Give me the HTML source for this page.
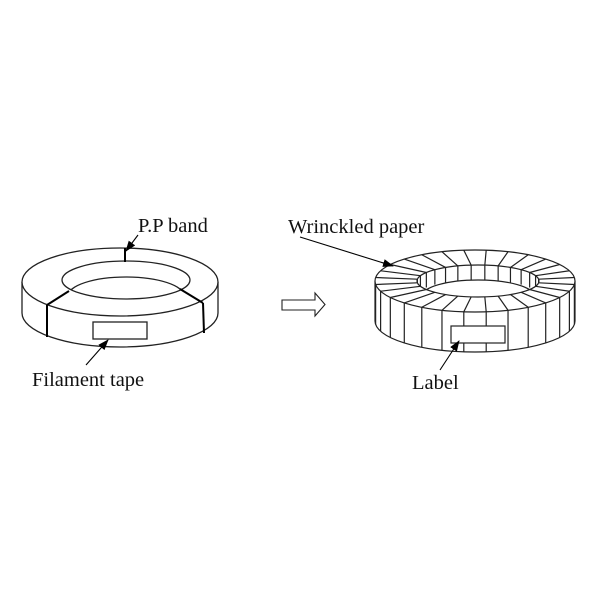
<!DOCTYPE html>
<html><head><meta charset="utf-8"><style>
html,body{margin:0;padding:0;background:#fff}
svg{display:block}
text{font-family:"Liberation Serif",serif;font-size:20.5px;fill:#111}
</style></head><body>
<svg id="s" width="600" height="600" viewBox="0 0 600 600" xmlns="http://www.w3.org/2000/svg">
<defs>
<clipPath id="c1"><ellipse cx="126" cy="280" rx="64" ry="19"/></clipPath>
<clipPath id="c2"><ellipse cx="478" cy="281" rx="61" ry="16"/></clipPath>
<marker id="ah" markerWidth="11" markerHeight="8" refX="10" refY="4" orient="auto" markerUnits="userSpaceOnUse"><path d="M0,0 L11,4 L0,8 z" fill="#000"/></marker>
</defs>
<g fill="none" stroke="#222" stroke-width="1.3">
<path d="M22,282 L22,313 A98,34 0 0 0 218,313 L218,282"/>
<ellipse cx="120" cy="282" rx="98" ry="34" fill="#fff"/>
<ellipse cx="126" cy="280" rx="64" ry="19"/>
<ellipse cx="126" cy="296" rx="58" ry="19" clip-path="url(#c1)"/>
<rect x="93" y="322" width="54" height="17"/>
</g>
<g stroke="#000" stroke-width="2" fill="none">
<line x1="125" y1="248" x2="125" y2="262"/>
<line x1="69" y1="291" x2="47" y2="305"/>
<line x1="47" y1="305" x2="47" y2="337"/>
<line x1="180" y1="289" x2="203" y2="303"/>
<line x1="203" y1="303" x2="204" y2="333"/>
</g>
<path d="M282,300 L315,300 L315,293 L325,304.5 L315,316 L315,310 L282,310 z" fill="#fff" stroke="#222" stroke-width="1.1"/>
<g id="r" fill="none" stroke="#222" stroke-width="1.2">
<path d="M375,281 L375,321 A100,31 0 0 0 575,321 L575,281"/>
<ellipse cx="475" cy="281" rx="100" ry="31" fill="#fff"/>
<ellipse cx="478" cy="281" rx="61" ry="16"/>
<ellipse cx="478" cy="296" rx="56" ry="16" clip-path="url(#c2)"/>
</g>
<rect x="451" y="326" width="54" height="17" fill="#fff" stroke="#222" stroke-width="1.2"/>
<g stroke="#000" stroke-width="1.1" fill="none">
<line x1="138" y1="235" x2="126" y2="251" marker-end="url(#ah)"/>
<line x1="86" y1="365" x2="108" y2="340" marker-end="url(#ah)"/>
<line x1="300" y1="237" x2="393" y2="266" marker-end="url(#ah)"/>
<line x1="440" y1="370" x2="459" y2="341" marker-end="url(#ah)"/>
</g>
<text x="138" y="232">P.P band</text>
<text x="32" y="386">Filament tape</text>
<text x="288" y="233">Wrinckled paper</text>
<text x="412" y="389">Label</text>
</svg>
<script>
(function(){
var g=document.getElementById('r'),ns="http://www.w3.org/2000/svg";
function L(a,b,c,d,cl){var l=document.createElementNS(ns,'line');l.setAttribute('x1',a);l.setAttribute('y1',b);l.setAttribute('x2',c);l.setAttribute('y2',d);if(cl)l.setAttribute('clip-path',cl);g.appendChild(l);}
var n=28;
for(var i=0;i<n;i++){var t=(i+0.5)/n*2*Math.PI,c=Math.cos(t),s=Math.sin(t);
var ox=475+100*c,oy=281+31*s,ix=478+61*c,iy=281+16*s;
L(ox,oy,ix,iy);
if(s>0){L(ox,oy,ox,oy+40);}
if(s<0){L(ix,iy,ix,iy+15,'url(#c2)');}
}
})();
</script>
</body></html>
